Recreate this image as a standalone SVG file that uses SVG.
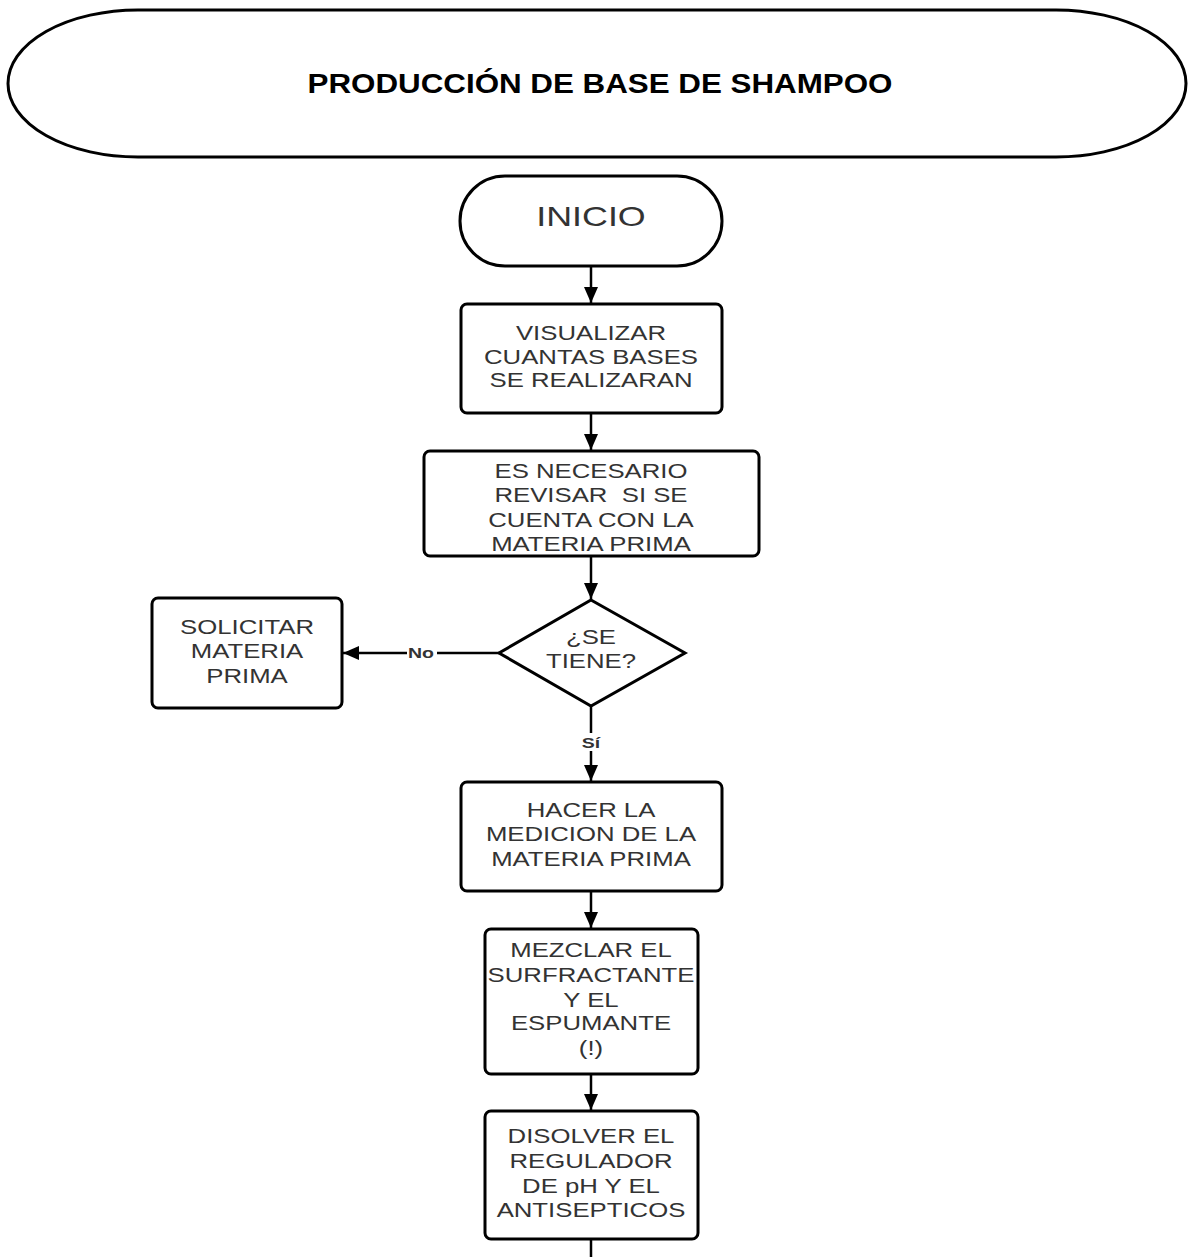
<svg xmlns="http://www.w3.org/2000/svg" width="1190" height="1257" viewBox="0 0 1190 1257">
<defs>
<marker id="ah" markerWidth="16" markerHeight="14" refX="16" refY="7" orient="auto" markerUnits="userSpaceOnUse" viewBox="0 0 16 14">
<path d="M0,0 L16,7 L0,14 Z" fill="#000"/>
</marker>
<style>
.shape{fill:#fff;stroke:#000;stroke-width:3}
.t{font-family:"Liberation Sans",Arial,sans-serif;font-size:19.5px;fill:#333;text-anchor:middle}
.conn{stroke:#000;stroke-width:2.5;fill:none}
.lbl{font-family:"Liberation Sans",Arial,sans-serif;font-size:15px;font-weight:bold;fill:#333;text-anchor:middle}
</style>
</defs>
<rect width="1190" height="1257" fill="#fff"/>
<g id="title">
<rect class="shape" x="8" y="10" width="1178" height="147" rx="130" ry="73.5"/>
<text transform="translate(600 0) scale(1.1 1)" x="0" y="93" style="font-family:'Liberation Sans',Arial,sans-serif;font-size:28.5px;font-weight:bold;fill:#000;text-anchor:middle">PRODUCCIÓN DE BASE DE SHAMPOO</text>
</g>
<g id="inicio">
<rect class="shape" x="460" y="176" width="262" height="90" rx="45" ry="45"/>
<text class="t" transform="translate(591 0) scale(1.28 1)" x="0" y="226" style="font-size:28px">INICIO</text>
</g>
<g id="visualizar">
<rect class="shape" x="461" y="304" width="261" height="109" rx="6"/>
<g transform="translate(591 0) scale(1.32 1)">
<text class="t" x="0" y="340">VISUALIZAR</text>
<text class="t" x="0" y="364">CUANTAS BASES</text>
<text class="t" x="0" y="387">SE REALIZARAN</text>
</g>
</g>
<g id="revisar">
<rect class="shape" x="424" y="451" width="335" height="105" rx="6"/>
<g transform="translate(591 0) scale(1.32 1)">
<text class="t" x="0" y="478">ES NECESARIO</text>
<text class="t" x="0" y="502" xml:space="preserve">REVISAR  SI SE</text>
<text class="t" x="0" y="527">CUENTA CON LA</text>
<text class="t" x="0" y="551">MATERIA PRIMA</text>
</g>
</g>
<g id="decision">
<path class="shape" d="M591,600 L685,653 L591,706 L499,653 Z"/>
<g transform="translate(591 0) scale(1.32 1)">
<text class="t" x="0" y="644">¿SE</text>
<text class="t" x="0" y="668">TIENE?</text>
</g>
</g>
<g id="solicitar">
<rect class="shape" x="152" y="598" width="190" height="110" rx="6"/>
<g transform="translate(247 0) scale(1.32 1)">
<text class="t" x="0" y="634">SOLICITAR</text>
<text class="t" x="0" y="658">MATERIA</text>
<text class="t" x="0" y="683">PRIMA</text>
</g>
</g>
<g id="medicion">
<rect class="shape" x="461" y="782" width="261" height="109" rx="6"/>
<g transform="translate(591 0) scale(1.32 1)">
<text class="t" x="0" y="817">HACER LA</text>
<text class="t" x="0" y="841">MEDICION DE LA</text>
<text class="t" x="0" y="866">MATERIA PRIMA</text>
</g>
</g>
<g id="mezclar">
<rect class="shape" x="485" y="929" width="213" height="145" rx="6"/>
<g transform="translate(591 0) scale(1.32 1)">
<text class="t" x="0" y="957">MEZCLAR EL</text>
<text class="t" x="0" y="982">SURFRACTANTE</text>
<text class="t" x="0" y="1007">Y EL</text>
<text class="t" x="0" y="1030">ESPUMANTE</text>
<text class="t" x="0" y="1055">(!)</text>
</g>
</g>
<g id="disolver">
<rect class="shape" x="485" y="1111" width="213" height="128" rx="6"/>
<g transform="translate(591 0) scale(1.32 1)">
<text class="t" x="0" y="1143">DISOLVER EL</text>
<text class="t" x="0" y="1168">REGULADOR</text>
<text class="t" x="0" y="1193">DE pH Y EL</text>
<text class="t" x="0" y="1217">ANTISEPTICOS</text>
</g>
</g>
<g id="connectors">
<line class="conn" x1="591" y1="266" x2="591" y2="303" marker-end="url(#ah)"/>
<line class="conn" x1="591" y1="413" x2="591" y2="450" marker-end="url(#ah)"/>
<line class="conn" x1="591" y1="556" x2="591" y2="599" marker-end="url(#ah)"/>
<line class="conn" x1="499" y1="653" x2="343" y2="653" marker-end="url(#ah)"/>
<rect x="407" y="644" width="30" height="18" fill="#fff"/>
<text class="lbl" transform="translate(421 0) scale(1.3 1)" x="0" y="658">No</text>
<line class="conn" x1="591" y1="706" x2="591" y2="781" marker-end="url(#ah)"/>
<rect x="579" y="733" width="24" height="18" fill="#fff"/>
<text class="lbl" transform="translate(591 0) scale(1.3 1)" x="0" y="748">Sí</text>
<line class="conn" x1="591" y1="891" x2="591" y2="928" marker-end="url(#ah)"/>
<line class="conn" x1="591" y1="1074" x2="591" y2="1110" marker-end="url(#ah)"/>
<line class="conn" x1="591" y1="1239" x2="591" y2="1257"/>
</g>
</svg>
